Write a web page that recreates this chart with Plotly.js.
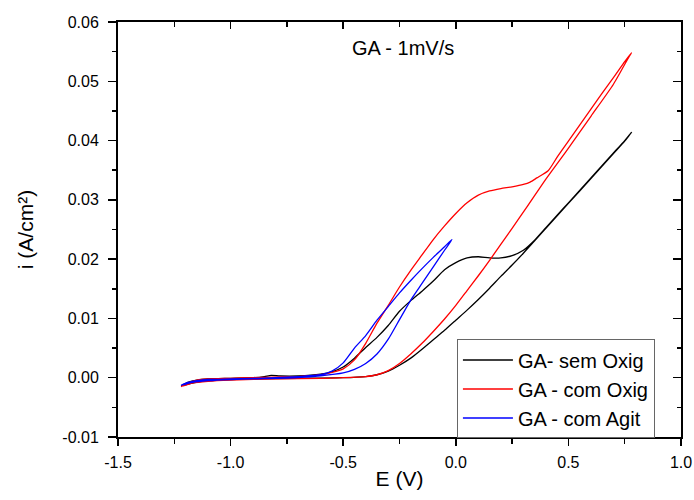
<!DOCTYPE html>
<html>
<head>
<meta charset="utf-8">
<script src="https://cdn.plot.ly/plotly-3.0.1.min.js"></script>
<style>html,body{margin:0;padding:0;background:#fff;}#chart{width:694px;height:500px;}</style>
</head>
<body>
<div id="chart"></div>
<script>
// GA - sem Oxig (black)
const semOxigE = [-1.22,-1.19,-1.15,-1.10,-1.00,-0.90,-0.85,-0.82,-0.78,-0.70,-0.60,-0.55,-0.50,-0.45,-0.40,-0.35,-0.30,-0.25,-0.20,-0.15,-0.10,-0.05,0.00,0.05,0.10,0.15,0.20,0.25,0.30,0.35,0.40,0.45,0.50,0.55,0.60,0.65,0.70,0.75,0.78,
  0.75,0.70,0.60,0.50,0.40,0.35,0.30,0.25,0.20,0.15,0.10,0.05,0.00,-0.05,-0.10,-0.15,-0.20,-0.25,-0.30,-0.35,-0.40,-0.50,-0.70,-0.90,-1.00,-1.10,-1.17,-1.21];
const semOxigI = [-0.0014,-0.0008,-0.0004,-0.0002,-0.0001,0.0000,0.0002,0.0004,0.0003,0.0003,0.0006,0.0010,0.0018,0.0033,0.0051,0.0068,0.0088,0.0112,0.0130,0.0146,0.0163,0.0182,0.0194,0.0202,0.0204,0.0202,0.0202,0.0206,0.0215,0.0232,0.0253,0.0274,0.0295,0.0316,0.0337,0.0358,0.0379,0.0400,0.0414,
  0.0399,0.0378,0.0336,0.0294,0.0252,0.0231,0.0210,0.0190,0.0171,0.0151,0.0132,0.0114,0.0097,0.0080,0.0064,0.0048,0.0033,0.0021,0.0011,0.0005,0.0002,0.0000,-0.0001,-0.0002,-0.0003,-0.0005,-0.0009,-0.0013];

// GA - com Oxig (red)
const comOxigE = [-1.22,-1.19,-1.15,-1.10,-1.00,-0.90,-0.80,-0.70,-0.60,-0.55,-0.50,-0.45,-0.40,-0.35,-0.30,-0.25,-0.20,-0.15,-0.10,-0.05,0.00,0.05,0.10,0.15,0.20,0.25,0.30,0.33,0.36,0.41,0.45,0.50,0.55,0.60,0.65,0.70,0.75,0.78,
  0.77,0.70,0.60,0.494,0.40,0.316,0.25,0.15,0.10,0.05,0.00,-0.05,-0.10,-0.15,-0.20,-0.25,-0.30,-0.35,-0.40,-0.50,-0.60,-0.80,-1.00,-1.10,-1.17,-1.21];
const comOxigI = [-0.0015,-0.0009,-0.0004,-0.0002,-0.0001,0.0000,0.0001,0.0002,0.0005,0.0009,0.0015,0.0030,0.0058,0.0092,0.0122,0.0153,0.0181,0.0207,0.0233,0.0256,0.0277,0.0295,0.0308,0.0315,0.0319,0.0322,0.0326,0.0330,0.0337,0.0349,0.0372,0.0399,0.0426,0.0453,0.0480,0.0506,0.0533,0.0548,
  0.0542,0.0495,0.0441,0.0384,0.0335,0.0288,0.0252,0.0198,0.0172,0.0147,0.0122,0.0099,0.0078,0.0058,0.0040,0.0024,0.0012,0.0005,0.0002,0.0000,-0.0001,-0.0002,-0.0004,-0.0006,-0.0009,-0.0014];

// GA - com Agit (blue)
const comAgitE = [-1.22,-1.19,-1.15,-1.10,-1.00,-0.90,-0.80,-0.70,-0.60,-0.55,-0.50,-0.45,-0.40,-0.35,-0.30,-0.25,-0.20,-0.15,-0.10,-0.05,-0.017,
  -0.05,-0.10,-0.15,-0.20,-0.25,-0.30,-0.35,-0.40,-0.45,-0.50,-0.60,-0.70,-0.90,-1.00,-1.10,-1.17,-1.21];
const comAgitI = [-0.0013,-0.0008,-0.0005,-0.0003,-0.0002,-0.0001,0.0000,0.0002,0.0005,0.0011,0.0025,0.0050,0.0071,0.0097,0.0120,0.0143,0.0164,0.0184,0.0203,0.0221,0.0233,
  0.0215,0.0187,0.0159,0.0131,0.0098,0.0065,0.0040,0.0024,0.0014,0.0008,0.0003,0.0000,-0.0002,-0.0003,-0.0005,-0.0008,-0.0012];

const seriesNames = ['GA- sem Oxig', 'GA - com Oxig', 'GA - com Agit'];
const seriesColors = ['#000000', '#ff0000', '#0000ff'];

const xTickVals = [-1.5,-1.0,-0.5,0.0,0.5,1.0];
const xTickText = ['-1.5','-1.0','-0.5','0.0','0.5','1.0'];
const yTickVals = [-0.01,0.00,0.01,0.02,0.03,0.04,0.05,0.06];
const yTickText = ['-0.01','0.00','0.01','0.02','0.03','0.04','0.05','0.06'];
const chartTitle = 'GA - 1mV/s';

const allE = [semOxigE, comOxigE, comAgitE];
const allI = [semOxigI, comOxigI, comAgitI];

const traces = allE.map((xs, k) => ({
  x: xs, y: allI[k], type: 'scatter', mode: 'lines', name: seriesNames[k],
  line: {color: seriesColors[k], width: 1.3, shape: 'spline', smoothing: 0.6}
}));
traces.push({x:[null], y:[null], xaxis:'x2', yaxis:'y2', type:'scatter', mode:'lines', showlegend:false, hoverinfo:'skip'});

const fontFam = 'Liberation Sans, Arial, sans-serif';
const axBase = {showgrid:false, zeroline:false, showline:true, linecolor:'#000', linewidth:2, tickcolor:'#000', tickwidth:1.5};

const layout = {
  width: 694, height: 500,
  margin: {l:118, r:13, t:22, b:63},
  paper_bgcolor: '#fff', plot_bgcolor: '#fff',
  font: {family: fontFam, color:'#000'},
  showlegend: true,
  xaxis: Object.assign({}, axBase, {
    range:[-1.5,1.0], tickmode:'array', tickvals:xTickVals, ticktext:xTickText,
    ticks:'outside', ticklen:7, tickfont:{size:16}, ticklabelstandoff:3,
    minor:{tickmode:'linear', tick0:-1.5, dtick:0.25, ticks:'outside', ticklen:5, tickwidth:1.5, tickcolor:'#000', showgrid:false},
    title:{text:'E (V)', font:{size:21}, standoff:1}, automargin:false
  }),
  yaxis: Object.assign({}, axBase, {
    range:[-0.01,0.06], tickmode:'array', tickvals:yTickVals, ticktext:yTickText,
    ticks:'outside', ticklen:8, tickfont:{size:16}, ticklabelstandoff:6,
    minor:{tickmode:'linear', tick0:-0.01, dtick:0.005, ticks:'outside', ticklen:4, tickwidth:1.5, tickcolor:'#000', showgrid:false},
    title:{text:'i (A/cm²)', font:{size:21}, standoff:23}, automargin:false
  }),
  xaxis2: Object.assign({}, axBase, {
    overlaying:'x', side:'top', anchor:'y', range:[-1.5,1.0], tickmode:'array', tickvals:xTickVals,
    ticks:'inside', ticklen:7, showticklabels:false,
    minor:{tickmode:'linear', tick0:-1.5, dtick:0.25, ticks:'inside', ticklen:5, tickwidth:1.5, tickcolor:'#000', showgrid:false}
  }),
  yaxis2: Object.assign({}, axBase, {
    overlaying:'y', side:'right', anchor:'x', range:[-0.01,0.06], tickmode:'array', tickvals:yTickVals,
    ticks:'inside', ticklen:8, showticklabels:false,
    minor:{tickmode:'linear', tick0:-0.01, dtick:0.005, ticks:'inside', ticklen:4, tickwidth:1.5, tickcolor:'#000', showgrid:false}
  }),
  legend: {x:0.602, y:0.235, xanchor:'left', yanchor:'top', bgcolor:'#fff', bordercolor:'#666', borderwidth:1,
    font:{size:20, family:fontFam}, tracegroupgap:0, itemwidth:50},
  annotations: [{text: chartTitle, xref:'paper', yref:'paper', x:0.506, y:0.937, xanchor:'center', yanchor:'middle', showarrow:false, font:{size:20}}]
};

Plotly.newPlot('chart', traces, layout, {displayModeBar:false, staticPlot:true});
</script>
</body>
</html>
